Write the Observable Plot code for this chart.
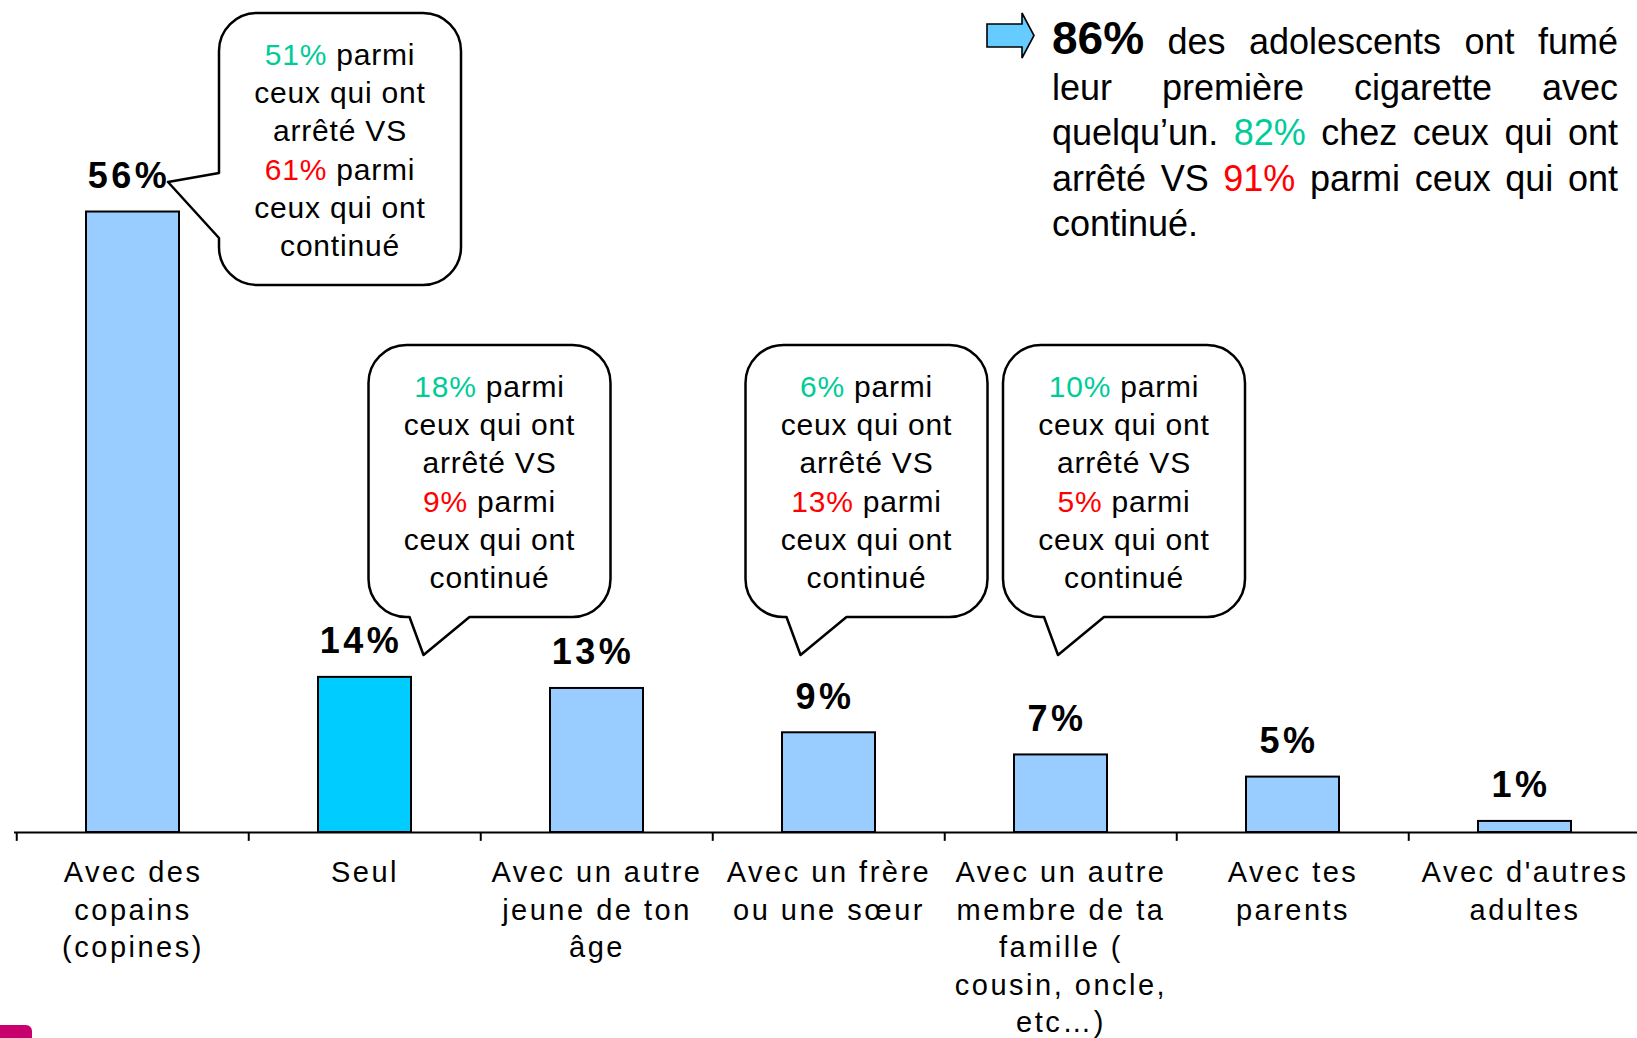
<!DOCTYPE html>
<html>
<head>
<meta charset="utf-8">
<script src="https://cdn.jsdelivr.net/npm/d3@7"></script>
<script src="https://cdn.jsdelivr.net/npm/@observablehq/plot@0.6"></script>
<style>
  html, body { margin: 0; padding: 0; background: #fff; }
  #wrap { position: relative; width: 1637px; height: 1038px; overflow: hidden;
          font-family: "Liberation Sans", Arial, sans-serif; }
  #chart { position: absolute; left: 0; top: 0; }
  #note { position: absolute; left: 1052px; top: 19px; width: 566px; font-size: 36px;
          line-height: 45.5px; color: #000; }
  #note .ln { height: 45.5px; white-space: nowrap; text-align: justify; text-align-last: justify; }
  #note .ln.last { text-align: left; text-align-last: left; }
  #note .big { font-weight: bold; font-size: 46px; line-height: 0; }
  #arrow { position: absolute; left: 984px; top: 10px; }
  #logo { position: absolute; left: 0; top: 1025px; width: 32px; height: 13px;
          background: #C8006E; border-top-right-radius: 6px; }
</style>
</head>
<body>
<div id="wrap">
  <div id="chart"></div>
  <svg id="arrow" width="54" height="52"><polygon id="arrowShape" fill="#66CCFF" stroke="#000" stroke-width="1.6" stroke-linejoin="miter"></polygon></svg>
  <div id="note"></div>
  <div id="logo"></div>
</div>
<script>
// ---------- data ----------
const categories = [
  "Avec des copains (copines)", "Seul", "Avec un autre jeune de ton âge",
  "Avec un frère ou une sœur", "Avec un autre membre de ta famille ( cousin, oncle, etc…)",
  "Avec tes parents", "Avec d'autres adultes"
];
const labelLines = [
  "Avec des\ncopains\n(copines)", "Seul", "Avec un autre\njeune de ton\nâge",
  "Avec un frère\nou une sœur", "Avec un autre\nmembre de ta\nfamille (\ncousin, oncle,\netc…)",
  "Avec tes\nparents", "Avec d'autres\nadultes"
];
const values = [56, 14, 13, 9, 7, 5, 1];
const highlighted = "Seul";

// callouts: share among those who stopped vs those who continued
const bubbleCategories = ["Avec des copains (copines)", "Seul", "Avec un frère ou une sœur",
  "Avec un autre membre de ta famille ( cousin, oncle, etc…)"];
const bubbleStopped = [51, 18, 6, 10];
const bubbleContinued = [61, 9, 13, 5];

// summary note
const summaryTotal = 86, summaryStopped = 82, summaryContinued = 91;

// ---------- layout / style ----------
const GREEN = "#00CC99", RED = "#FF0000";
const xRange = [14.3, 1641.8];
const step = (xRange[1] - xRange[0]) / categories.length;
const yZero = 832, pxPerUnit = 11.08;

const table = categories.map((c, i) => ({cat: c, label: labelLines[i], value: values[i]}));

const plot = Plot.plot({
  width: 1637, height: 1038,
  marginLeft: 14, marginRight: 0, marginTop: 0, marginBottom: 0,
  x: {domain: categories, range: xRange, paddingInner: 0.6, paddingOuter: 0.3, axis: null},
  y: {domain: [0, 60], range: [yZero, yZero - 60 * pxPerUnit], axis: null},
  color: {type: "identity"},
  style: {background: "transparent", fontFamily: "'Liberation Sans', Arial, sans-serif", overflow: "visible"},
  marks: [
    Plot.barY(table, {x: "cat", y: "value",
      fill: d => d.cat === highlighted ? "#00CCFF" : "#99CCFF",
      stroke: "#000", strokeWidth: 2}),
    Plot.ruleY([0], {stroke: "#000", strokeWidth: 2}),
    Plot.ruleX(table, {x: "cat", y1: 0, y2: -0.8, dx: -step / 2, stroke: "#000", strokeWidth: 2}),
    Plot.text(table, {x: "cat", y: "value", text: d => d.value + "%", lineAnchor: "bottom",
      dy: -24, dx: -4, fontSize: 36, fontWeight: "bold", fill: "#000", ariaLabel: "value-labels"}),
    Plot.text(table, {x: "cat", y: () => 0, text: "label", lineAnchor: "top",
      dy: 23, fontSize: 29, lineHeight: 37.5 / 29, fill: "#000", ariaLabel: "category-labels"})
  ]
});
document.getElementById("chart").appendChild(plot);

// letter spacing for the two text layers (order of marks: value labels, then category labels)
const textLayers = d3.select(plot).selectAll("g[aria-label='text'], g[aria-label='value-labels'], g[aria-label='category-labels']").nodes();
if (textLayers.length >= 2) {
  d3.select(textLayers[0]).attr("letter-spacing", 3.5);
  d3.select(textLayers[1]).attr("letter-spacing", 2.5);
}

// ---------- callout bubbles (positioned from the plot's x scale) ----------
const xs = plot.scale("x");
const centerOf = c => xs.apply(c) + xs.bandwidth / 2;
const bubbleLayout = [
  {dx: 86.5, top: 13, tail: "left"},
  {dx: 4, top: 345, tail: "bottom"},
  {dx: -83, top: 345, tail: "bottom"},
  {dx: -57.5, top: 345, tail: "bottom"}
];
const BW = 242, BH = 272, R = 38;

function bubblePath(L, T, tail) {
  const Rt = L + BW, B = T + BH;
  let p = `M${L + R},${T} H${Rt - R} A${R},${R} 0 0 1 ${Rt},${T + R} V${B - R} A${R},${R} 0 0 1 ${Rt - R},${B}`;
  if (tail === "bottom") {
    p += ` H${L + 101} L${L + 55},${B + 38} L${L + 41},${B}`;
  }
  p += ` H${L + R} A${R},${R} 0 0 1 ${L},${B - R}`;
  if (tail === "left") {
    p += ` V${T + 225} L${L - 51},${T + 169} L${L},${T + 160}`;
  }
  p += ` V${T + R} A${R},${R} 0 0 1 ${L + R},${T} Z`;
  return p;
}

const svg = d3.select(plot);
const g = svg.append("g");
bubbleCategories.forEach((c, i) => {
  const lay = bubbleLayout[i];
  const L = centerOf(c) + lay.dx, T = lay.top;
  g.append("path").attr("d", bubblePath(L, T, lay.tail))
    .attr("fill", "#fff").attr("stroke", "#000").attr("stroke-width", 2.5)
    .attr("stroke-linejoin", "round");
  const cx = L + BW / 2;
  const t = g.append("text").attr("text-anchor", "middle")
    .attr("font-size", 30).attr("letter-spacing", 0.8).attr("fill", "#000");
  const lines = [
    [[bubbleStopped[i] + "%", GREEN], [" parmi", "#000"]],
    [["ceux qui ont", "#000"]],
    [["arrêté VS", "#000"]],
    [[bubbleContinued[i] + "%", RED], [" parmi", "#000"]],
    [["ceux qui ont", "#000"]],
    [["continué", "#000"]]
  ];
  lines.forEach((parts, k) => {
    parts.forEach((pt, j) => {
      const ts = t.append("tspan").attr("fill", pt[1]).attr("xml:space", "preserve").text(pt[0]);
      if (j === 0) ts.attr("x", cx).attr("y", T + 52 + k * 38.2);
    });
  });
});

// ---------- summary note (one block per line, justified) ----------
document.getElementById("note").innerHTML =
  `<div class="ln"><span class="big">${summaryTotal}%</span> des adolescents ont fumé</div>` +
  `<div class="ln">leur première cigarette avec</div>` +
  `<div class="ln">quelqu’un. <span style="color:${GREEN}">${summaryStopped}%</span> chez ceux qui ont</div>` +
  `<div class="ln">arrêté VS <span style="color:${RED}">${summaryContinued}%</span> parmi ceux qui ont</div>` +
  `<div class="ln last">continué.</div>`;
// arrow glyph (local svg coordinates)
d3.select("#arrowShape").attr("points", [[3,14],[38,14],[38,3],[50,25.5],[38,48],[38,37],[3,37]].map(p => p.join(",")).join(" "));
</script>
</body>
</html>
